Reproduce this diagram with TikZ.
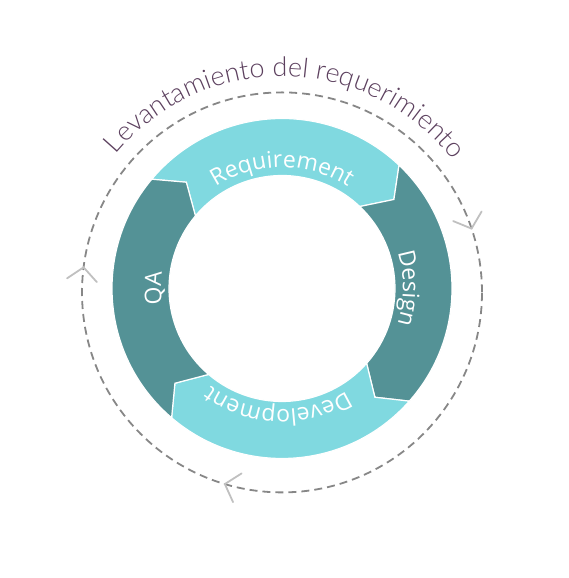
\documentclass[tikz,border=0pt]{standalone}
\usepackage{fontspec}
\setmainfont{Open Sans}
\newfontfamily\thinfont{Lato Light}
\usetikzlibrary{calc,decorations.text}
\definecolor{ringLight}{RGB}{128,217,224}
\definecolor{ringDark}{RGB}{84,146,150}
\definecolor{inkPlum}{RGB}{92,64,94}
\definecolor{dashGray}{RGB}{135,135,135}
\definecolor{tipGray}{RGB}{192,192,192}
\tikzset{
    ringpart/.style={draw=white, line width=1.2pt, line join=miter},
    cyclelabel/.style={decorate, decoration={text along path, text align=center,
        text={|\color{white}\fontsize{23pt}{27pt}\selectfont|#1}}},
    orbit/.style={dashGray, line width=1.8pt, dash pattern=on 8pt off 5pt},
    chevron/.style={tipGray, line width=1.8pt, line cap=round, line join=miter}
}

\begin{document}
\begin{tikzpicture}[x=1pt, y=1pt]
                \useasboundingbox (0,0) rectangle (568,578);
                \coordinate (ctr) at (282,289.5);
                \coordinate (orb) at (282,285.6);
                \begin{scope}[shift={(ctr)}]
                    \foreach \a/\b/\col in {140/46.5/ringLight, 46.5/-41.5/ringDark, 318.5/229.5/ringLight, 229.5/140/ringDark}
                        \filldraw[ringpart, fill=\col] (\a:170) arc[start angle=\a, end angle=\b, radius=170pt]
                            -- ({\b-8}:143) -- (\b:113) arc[start angle=\b, end angle=\a, radius=113pt]
                            -- ({\a-8}:143) -- cycle;
                    \path[cyclelabel=Requirement] (150:121) arc[start angle=150, end angle=30, radius=121pt];
                    \path[cyclelabel=Design] (60:121) arc[start angle=60, end angle=-60, radius=121pt];
                    \path[cyclelabel=Development] (328:121) arc[start angle=328, end angle=208, radius=121pt];
                    \path[cyclelabel=QA] (240:121) arc[start angle=240, end angle=120, radius=121pt];
                \end{scope}
                \begin{scope}[shift={(orb)}]
                    \draw[orbit] (0,0) circle[radius=200pt];
                    \foreach \t in {18.6,172.8,253.4}
                        \draw[chevron, rotate=\t] (215,13) -- (200,0) -- (185,13);
                    \path[decorate, decoration={text along path, text align=center,
                        text={|\color{inkPlum}\thinfont\fontsize{27pt}{32pt}\selectfont|Levantamiento del requerimiento}}]
                        (168:216) arc[start angle=168, end angle=10, radius=216pt];
                \end{scope}
            \end{tikzpicture}
\end{document}
